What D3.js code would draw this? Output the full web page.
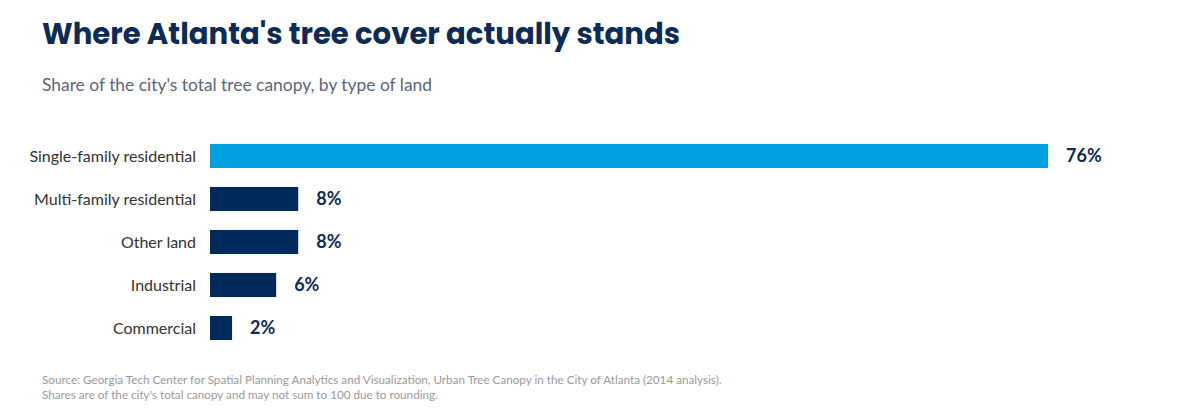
<!DOCTYPE html>
<html><head><meta charset="utf-8">
<script src="https://cdn.jsdelivr.net/npm/d3@7"></script>
<style>body{margin:0;background:#fff}svg{display:block}</style>
</head><body>
<svg id="c" width="1200" height="420"></svg>
<script>
const categories = ["Single-family residential","Multi-family residential","Other land","Industrial","Commercial"];
const values = [76, 8, 8, 6, 2];
const highlight = ["Single-family residential"];

const svg = d3.select("#c");
const x = d3.scaleLinear().domain([0, 76]).range([210, 1048]);
const y = d3.scaleBand().domain(categories).range([134.5, 349.5]).paddingInner(0.44).paddingOuter(0.22);

svg.append("text").attr("x",42).attr("y",44)
  .attr("font-family","Poppins, Inter, sans-serif").attr("font-weight",700).attr("font-size",29)
  .attr("fill","#0c2b57").attr("textLength",638).attr("lengthAdjust","spacingAndGlyphs")
  .text("Where Atlanta's tree cover actually stands");
svg.append("text").attr("x",42).attr("y",91)
  .attr("font-family","Lato, sans-serif").attr("font-size",17.4).attr("fill","#5b6678")
  .text("Share of the city's total tree canopy, by type of land");

const g = svg.append("g");
g.selectAll("rect").data(categories).join("rect")
  .attr("x", x(0)).attr("y", d => y(d)).attr("height", y.bandwidth())
  .attr("width", (d,i) => x(values[i]) - x(0))
  .attr("fill", d => highlight.includes(d) ? "#00a1e0" : "#002a5c");

g.selectAll("text.cat").data(categories).join("text").attr("class","cat")
  .attr("x", 196).attr("y", d => y(d) + y.bandwidth()/2).attr("dy","0.35em")
  .attr("text-anchor","end").attr("font-family","Lato, sans-serif").attr("font-size",16).attr("fill","#333")
  .text(d => d);

g.selectAll("text.val").data(categories).join("text").attr("class","val")
  .attr("x", (d,i) => x(values[i]) + 18).attr("y", d => y(d) + y.bandwidth()/2).attr("dy","0.35em")
  .attr("font-family","Lato, sans-serif").attr("font-weight",700).attr("font-size",18).attr("fill","#0c2b57")
  .text((d,i) => values[i] + "%");

const notes = ["Source: Georgia Tech Center for Spatial Planning Analytics and Visualization, Urban Tree Canopy in the City of Atlanta (2014 analysis).",
  "Shares are of the city's total canopy and may not sum to 100 due to rounding."];
svg.selectAll("text.note").data(notes).join("text").attr("class","note")
  .attr("x",42).attr("y",(d,i)=>384+i*14.5)
  .attr("font-family","Lato, sans-serif").attr("font-size",11.7).attr("fill","#9a9a9a")
  .text(d=>d);
</script>
</body></html>
